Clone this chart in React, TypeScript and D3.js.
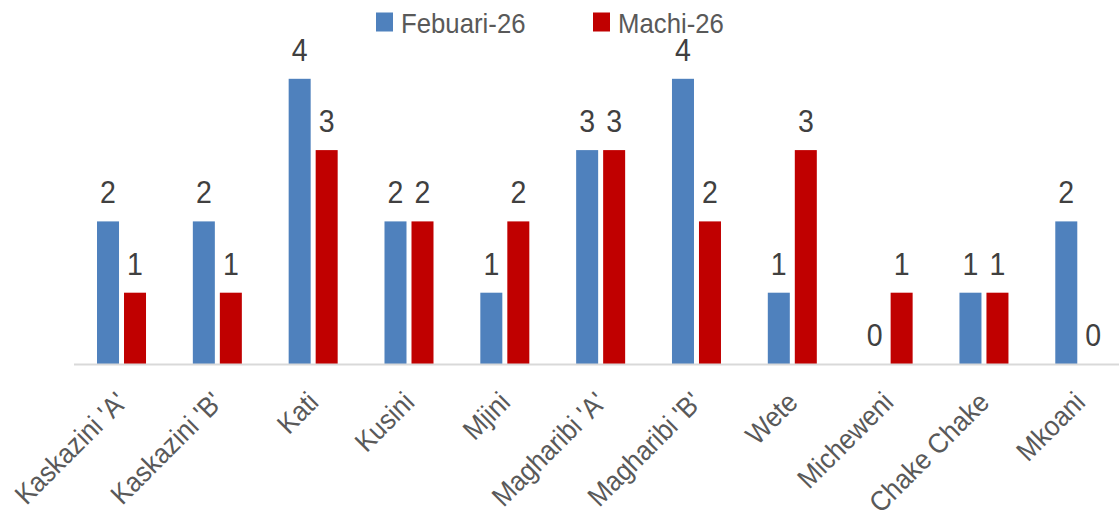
import React, { useEffect, useRef } from 'react'
import * as d3 from 'd3'

const categories = [
  "Kaskazini 'A'",
  "Kaskazini 'B'",
  'Kati',
  'Kusini',
  'Mjini',
  "Magharibi 'A'",
  "Magharibi 'B'",
  'Wete',
  'Micheweni',
  'Chake Chake',
  'Mkoani',
]
const seriesNames = ['Febuari-26', 'Machi-26']
const febuari = [2, 2, 4, 2, 1, 3, 4, 1, 0, 1, 2]
const machi = [1, 1, 3, 2, 2, 3, 2, 3, 1, 1, 0]
const seriesColors = ['#4f81bd', '#c00000']

const App = () => {
  const ref = useRef<SVGSVGElement | null>(null)

  useEffect(() => {
    const width = 1119
    const baseline = 364
    const font = "'Liberation Sans', Arial, sans-serif"
    // the reference font is a touch narrower than Liberation Sans
    const squeeze = 'scale(0.92,1)'

    const svg = d3.select(ref.current)
    svg.selectAll('*').remove()

    const rows = categories.map((c, i) => ({ category: c, values: [febuari[i], machi[i]] }))

    // Scales
    const xScale = d3.scaleBand<string>()
      .domain(categories)
      .range([73.6, 1127.7])
      .padding(0)

    const bw = xScale.bandwidth()
    const innerScale = d3.scaleBand<string>()
      .domain(seriesNames)
      .range([bw * 0.2443, bw * 0.7557])
      .paddingInner(0.185)

    const yScale = d3.scaleLinear()
      .domain([0, 4])
      .range([baseline, 78.8])

    // Bars
    const groups = svg.append('g')
      .selectAll('g')
      .data(rows)
      .join('g')
      .attr('transform', d => `translate(${xScale(d.category)},0)`)

    groups.selectAll('rect')
      .data(d => d.values.map((v, j) => ({ v, j })))
      .join('rect')
      .attr('x', d => innerScale(seriesNames[d.j])!)
      .attr('y', d => yScale(d.v))
      .attr('width', innerScale.bandwidth())
      .attr('height', d => baseline - yScale(d.v))
      .attr('fill', d => seriesColors[d.j])

    // Value labels
    groups.selectAll('text')
      .data(d => d.values.map((v, j) => ({ v, j })))
      .join('text')
      .attr('transform', d =>
        `translate(${innerScale(seriesNames[d.j])! + innerScale.bandwidth() / 2},${yScale(d.v) - 18}) ${squeeze}`)
      .attr('text-anchor', 'middle')
      .attr('fill', '#404040')
      .style('font-family', font)
      .style('font-size', '31px')
      .text(d => d.v)

    // Axis line
    svg.append('line')
      .attr('x1', 74)
      .attr('x2', width)
      .attr('y1', baseline + 0.5)
      .attr('y2', baseline + 0.5)
      .attr('stroke', '#d9d9d9')
      .attr('stroke-width', 2)

    // Category labels
    svg.append('g')
      .selectAll('text')
      .data(categories)
      .join('text')
      .attr('transform', d => `translate(${xScale(d)! + bw / 2 + 7},${baseline + 40}) rotate(-45) ${squeeze}`)
      .attr('text-anchor', 'end')
      .attr('fill', '#595959')
      .style('font-family', font)
      .style('font-size', '28px')
      .text(d => d)

    // Legend
    const legendX = [376, 593]
    const legend = svg.append('g')
      .selectAll('g')
      .data(seriesNames)
      .join('g')
      .attr('transform', (d, i) => `translate(${legendX[i]},0)`)

    legend.append('rect')
      .attr('x', 0)
      .attr('y', 12.5)
      .attr('width', 17)
      .attr('height', 19)
      .attr('fill', (d, i) => seriesColors[i])

    legend.append('text')
      .attr('transform', `translate(25,33) ${squeeze}`)
      .attr('fill', '#595959')
      .style('font-family', font)
      .style('font-size', '28px')
      .text(d => d)
  }, [])

  return (
    <svg
      ref={ref}
      width={1119}
      height={517}
      style={{ position: 'absolute', left: 0, top: 0, background: '#ffffff', overflow: 'hidden' }}
    />
  )
}

export default App
